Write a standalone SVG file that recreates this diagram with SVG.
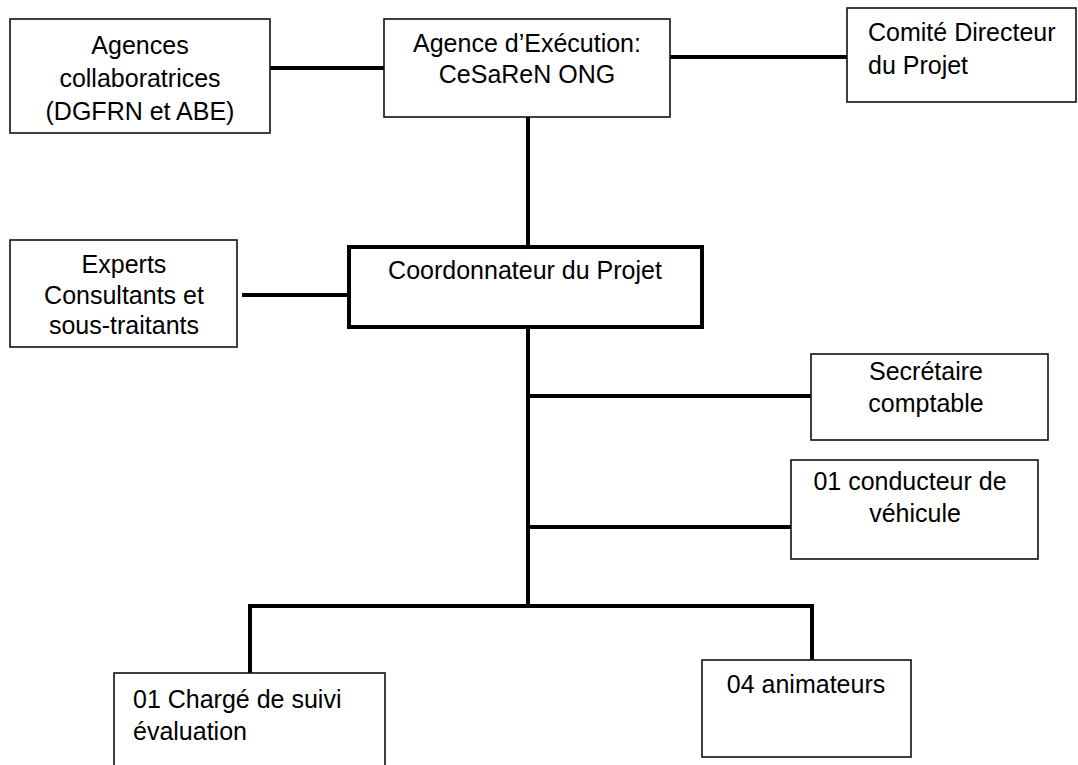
<svg xmlns="http://www.w3.org/2000/svg" width="1078" height="765" viewBox="0 0 1078 765">
<style>
.box{fill:#fff;stroke:#111;stroke-width:1.6}
.thick{fill:#fff;stroke:#000;stroke-width:4}
.t{font-family:"Liberation Sans",Arial,sans-serif;font-size:25px;fill:#000}
.c{text-anchor:middle}
.ln{fill:none;stroke:#000;stroke-width:4;stroke-linejoin:miter}
</style>
<rect width="1078" height="765" fill="#fff"/>
<g id="connectors">
<line class="ln" x1="270" y1="68" x2="384" y2="68"/>
<line class="ln" x1="670" y1="57" x2="847" y2="57"/>
<line class="ln" x1="528" y1="117" x2="528" y2="246"/>
<line class="ln" x1="242" y1="295" x2="347" y2="295"/>
<line class="ln" x1="528" y1="329" x2="528" y2="606"/>
<line class="ln" x1="528" y1="396" x2="811" y2="396"/>
<line class="ln" x1="528" y1="527" x2="791" y2="527"/>
<path class="ln" d="M250 673 V606 H812 V660"/>
</g>
<g id="agences">
<rect class="box" x="10" y="19" width="260" height="114"/>
<text class="t c" x="140" y="54">Agences</text>
<text class="t c" x="140" y="87">collaboratrices</text>
<text class="t c" x="140" y="120">(DGFRN et ABE)</text>
</g>
<g id="execution">
<rect class="box" x="384" y="19" width="286" height="98"/>
<text class="t c" x="527" y="52">Agence d’Exécution:</text>
<text class="t c" x="527" y="83">CeSaReN ONG</text>
</g>
<g id="comite">
<rect class="box" x="847" y="8" width="229" height="94"/>
<text class="t" x="868" y="41">Comité Directeur</text>
<text class="t" x="868" y="74">du Projet</text>
</g>
<g id="experts">
<rect class="box" x="10" y="240" width="227" height="107"/>
<text class="t c" x="124" y="273">Experts</text>
<text class="t c" x="124" y="304">Consultants et</text>
<text class="t c" x="124" y="334">sous-traitants</text>
</g>
<g id="coordonnateur">
<rect class="thick" x="349" y="247" width="353" height="80"/>
<text class="t c" x="525" y="279">Coordonnateur du Projet</text>
</g>
<g id="secretaire">
<rect class="box" x="811" y="354" width="237" height="86"/>
<text class="t c" x="926" y="380">Secrétaire</text>
<text class="t c" x="926" y="412">comptable</text>
</g>
<g id="conducteur">
<rect class="box" x="791" y="460" width="247" height="99"/>
<text class="t c" x="910" y="490">01 conducteur de</text>
<text class="t c" x="915" y="522">véhicule</text>
</g>
<g id="charge">
<rect class="box" x="114" y="673" width="271" height="110"/>
<text class="t" x="133" y="708">01 Chargé de suivi</text>
<text class="t" x="133" y="740">évaluation</text>
</g>
<g id="animateurs">
<rect class="box" x="702" y="660" width="209" height="97"/>
<text class="t c" x="806" y="693">04 animateurs</text>
</g>
</svg>
